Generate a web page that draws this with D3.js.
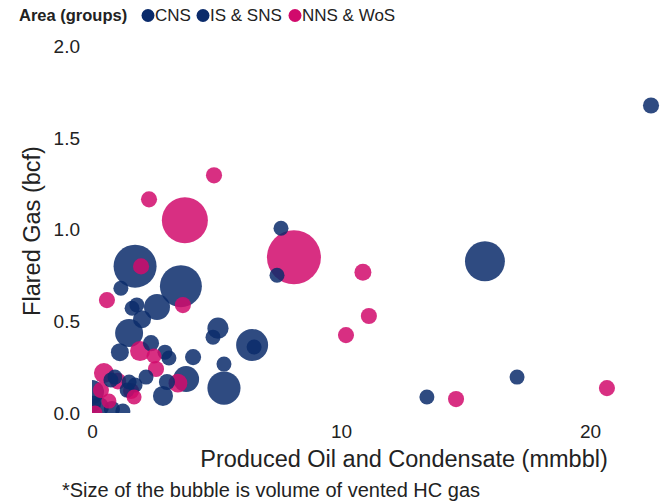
<!DOCTYPE html>
<html><head><meta charset="utf-8">
<script src="https://cdn.jsdelivr.net/npm/d3@7"></script>
<style>body{margin:0;background:#fff}svg{display:block}text{font-family:"Liberation Sans",Arial,sans-serif}</style>
</head><body><div id="chart"></div>
<script>
const groups = ["CNS", "IS & SNS", "NNS & WoS"];
const groupColors = ["#0a2b6b", "#0a2b6b", "#d10a6c"];
const xTicks = [0, 10, 20];
const yTicks = [0, 0.5, 1.0, 1.5, 2.0];
// [produced oil (mmbbl), flared gas (bcf), vented HC gas (relative)]
const cnsPoints = [
  [22.45,1.678,0.001],[15.78,0.828,0.49],[17.07,0.196,0],[13.45,0.087,0],
  [7.59,1.008,0],[7.43,0.752,0],[1.73,0.801,0.62],[3.57,0.692,0.575],
  [1.16,0.681,0],[1.61,0.572,0],[1.8,0.59,0],[2.61,0.578,0.095],
  [2.01,0.512,0.007],[1.49,0.436,0.133],[5.06,0.463,0.03],[4.86,0.414,0],
  [6.43,0.371,0.228],[6.51,0.36,0],[2.37,0.381,0.001],[1.12,0.332,0.007],
  [2.93,0.332,0],[3.09,0.30,0],[4.06,0.305,0.001],[5.3,0.267,0],
  [5.3,0.136,0.26],[3.78,0.185,0.095],[2.17,0.196,0],[3.01,0.169,0.001],
  [2.85,0.093,0.02]
];
const issnsPoints = [
  [0.92,0.196,0],[0.76,0.18,0],[1.49,0.169,0],[1.41,0.125,0],[1.73,0.153,0],
  [0.0,0.114,0.064],[0.28,0.033,0.02],[0.8,0.022,0.001],[1.24,0.011,0],[0.04,0.05,0.001]
];
const nnsPoints = [
  [20.68,0.136,0.001],[14.62,0.076,0.001],[10.88,0.768,0.003],[11.12,0.529,0.001],
  [10.2,0.425,0.001],[8.11,0.85,1.2],[3.73,1.052,0.76],[4.9,1.297,0.001],
  [2.29,1.166,0.001],[1.97,0.80,0.001],[3.65,0.589,0.001],[0.6,0.616,0.001],
  [1.93,0.338,0.02],[2.49,0.311,0],[2.57,0.24,0.001],[3.45,0.163,0.012],
  [0.48,0.218,0.02],[1.04,0.174,0.002],[0.36,0.125,0.001],[0.68,0.065,0],
  [0.12,0.0,0],[1.57,0.12,0.001],[1.69,0.087,0]
];

const W = 664, H = 503;
const svg = d3.select("#chart").append("svg").attr("width", W).attr("height", H);

const x = d3.scaleLinear().domain([0, 23]).range([92, 664.7]);
const y = d3.scaleLinear().domain([0, 2]).range([413, 46.5]);
const r = d3.scaleSqrt().domain([0, 1.2]).range([7.5, 27]);
const color = d3.scaleOrdinal().domain(groups).range(groupColors);

const data = [];
[[cnsPoints, groups[0]], [issnsPoints, groups[1]], [nnsPoints, groups[2]]].forEach(([arr, g]) => {
  arr.forEach(p => data.push({x: p[0], y: p[1], v: p[2], g}));
});
data.sort((a, b) => b.v - a.v);

svg.append("defs").append("clipPath").attr("id", "clip")
  .append("rect").attr("x", 92).attr("y", 0).attr("width", W - 92).attr("height", 413);

svg.append("g").attr("clip-path", "url(#clip)")
  .selectAll("circle").data(data).join("circle")
  .attr("cx", d => x(d.x)).attr("cy", d => y(d.y)).attr("r", d => r(d.v))
  .attr("fill", d => color(d.g)).attr("fill-opacity", 0.85);

const font = '"Liberation Sans",Arial,sans-serif';
// Y axis
const yAxis = svg.append("g").attr("transform", "translate(80,0)")
  .call(d3.axisLeft(y).tickValues(yTicks).tickFormat(d3.format(".1f")).tickSize(0).tickPadding(0));
yAxis.select(".domain").remove();
yAxis.selectAll("text").attr("font-size", 19).attr("fill", "#222").style("font-family", font);

// X axis
const xAxis = svg.append("g").attr("transform", "translate(0,424)")
  .call(d3.axisBottom(x).tickValues(xTicks).tickFormat(d3.format("d")).tickSize(0).tickPadding(0));
xAxis.select(".domain").remove();
xAxis.selectAll("text").attr("font-size", 19).attr("fill", "#222").style("font-family", font);

svg.append("text").attr("x", 404).attr("y", 467).attr("text-anchor", "middle")
  .attr("font-size", 23.5).attr("fill", "#222").text("Produced Oil and Condensate (mmbbl)");

svg.append("text").attr("transform", "translate(40,231) rotate(-90)").attr("text-anchor", "middle")
  .attr("font-size", 23.5).attr("fill", "#222").text("Flared Gas (bcf)");

svg.append("text").attr("x", 62).attr("y", 497)
  .attr("font-size", 20).attr("fill", "#222").text("*Size of the bubble is volume of vented HC gas");

// Legend
const lg = svg.append("g");
lg.append("text").attr("x", 19).attr("y", 21).attr("font-size", 16.5).attr("font-weight", "bold")
  .attr("fill", "#222").text("Area (groups)");
const legX = [148, 203, 295];
groups.forEach((g, i) => {
  lg.append("circle").attr("cx", legX[i]).attr("cy", 15.5).attr("r", 6.5).attr("fill", color(g));
  lg.append("text").attr("x", legX[i] + 7).attr("y", 21).attr("font-size", 17).attr("fill", "#222").text(g);
});
</script></body></html>
